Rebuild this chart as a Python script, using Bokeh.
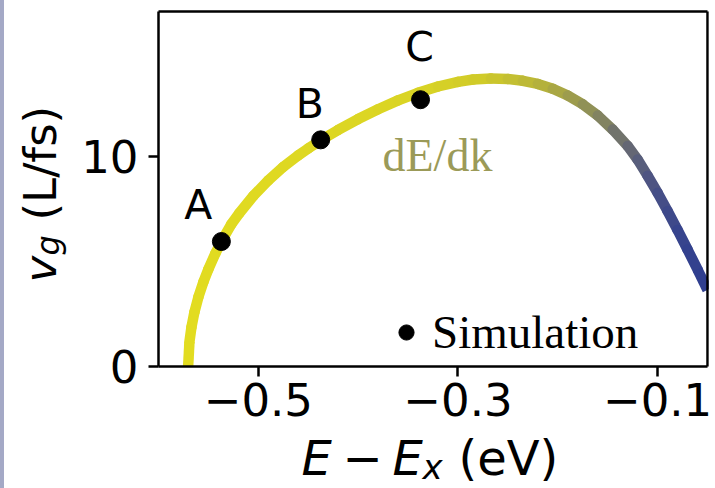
import numpy as np
from bokeh.plotting import figure
from bokeh.models import (Range1d, FixedTicker, CustomJSTickFormatter, Label,
                          Legend, LegendItem, Div, ColumnDataSource, LinearAxis,
                          BoxAnnotation)
from bokeh.layouts import row
from bokeh.embed import file_html
from bokeh.resources import INLINE

# Group velocity v_g = dE/dk versus energy measured from the exciton
curve_e = [-0.5703, -0.569, -0.567, -0.564, -0.560, -0.555, -0.550, -0.543,
           -0.537, -0.527, -0.519, -0.505, -0.490, -0.475, -0.460, -0.450,
           -0.4375, -0.420, -0.400, -0.380, -0.360, -0.340, -0.320, -0.300,
           -0.285, -0.267, -0.250, -0.235, -0.220, -0.205, -0.190, -0.175,
           -0.160, -0.145, -0.130, -0.120, -0.110, -0.100, -0.090, -0.080,
           -0.070, -0.060, -0.050]
curve_vg = [0.0, 1.18, 1.87, 2.59, 3.31, 4.03, 4.64, 5.39,
            5.95, 6.78, 7.3, 8.12, 8.86, 9.5, 10.05, 10.38,
            10.77, 11.26, 11.78, 12.25, 12.67, 13.03, 13.33, 13.55,
            13.66, 13.71, 13.69, 13.6, 13.45, 13.22, 12.9, 12.48,
            11.95, 11.28, 10.5, 9.85, 9.08, 8.27, 7.4, 6.5,
            5.57, 4.62, 3.65]

# Simulated wave packets
sim_names = ["A", "B", "C"]
sim_e = [-0.537, -0.4375, -0.3375]
sim_vg = [5.95, 10.79, 12.7]

x_ticks = [-0.5, -0.3, -0.1]
y_ticks = [0, 10]

# Line colour along the curve: yellow fading through grey into blue
color_stops_e = [-0.60, -0.34, -0.27, -0.22, -0.19, -0.16, -0.14, -0.12, -0.10, -0.07, -0.05]
color_stops_rgb = [(227, 221, 31), (218, 212, 36), (207, 202, 42), (186, 182, 56),
                   (163, 162, 72), (138, 139, 92), (116, 117, 106), (94, 98, 120),
                   (72, 80, 134), (52, 66, 142), (47, 62, 143)]

# plot box limits (data) and where that box sits on the page (pixels)
X0, X1 = -0.6, -0.05
Y0, Y1 = 0.0, 16.9
STRIP = 4
BOX_L, BOX_T, BOX_W, BOX_H = 154, 11, 549, 355   # inside the figure canvas
PW, PH = 715 - STRIP, 488


def gx(px):
    """page pixel column -> data x"""
    return X0 + (px - STRIP - BOX_L) / BOX_W * (X1 - X0)


def gy(py):
    """page pixel row -> data y"""
    return Y1 - (py - BOX_T) / BOX_H * (Y1 - Y0)


# the frame fills the whole canvas; axes are pinned to the plot box edges
p = figure(width=PW, height=PH, output_backend="svg", toolbar_location=None,
           title=None,
           x_range=Range1d(gx(STRIP), gx(STRIP + PW)),
           y_range=Range1d(gy(PH), gy(0)),
           min_border_left=0, min_border_right=0,
           min_border_top=0, min_border_bottom=0)
p.xgrid.visible = False
p.ygrid.visible = False
p.background_fill_color = "white"
p.border_fill_color = "white"
p.outline_line_color = None

xax = p.xaxis[0]
yax = p.yaxis[0]
xax.fixed_location = Y0
xax.bounds = (X0, X1)
yax.fixed_location = X0
yax.bounds = (Y0, Y1)
for ax in (xax, yax):
    ax.axis_line_width = 2.5
    ax.major_tick_line_width = 2.5
    ax.major_tick_out = 10
    ax.major_tick_in = 0
    ax.minor_tick_line_color = None
    ax.major_label_text_font = "DejaVu Sans"
    ax.major_label_text_font_size = "45px"
    ax.major_label_text_color = "black"
xax.ticker = FixedTicker(ticks=x_ticks)
yax.ticker = FixedTicker(ticks=y_ticks)
xax.formatter = CustomJSTickFormatter(
    code="return (tick < 0 ? '\\u2212' : '') + Math.abs(tick).toFixed(1);")
yax.formatter = CustomJSTickFormatter(
    code="return (tick < 0 ? '\\u2212' : '') + Math.abs(tick).toFixed(0);")
xax.major_label_standoff = 6
yax.major_label_standoff = 10

# top and right spines
top = LinearAxis(fixed_location=Y1, bounds=(X0, X1), ticker=FixedTicker(ticks=[]),
                 axis_line_width=2.5, minor_tick_line_color=None)
right = LinearAxis(fixed_location=X1, bounds=(Y0, Y1), ticker=FixedTicker(ticks=[]),
                   axis_line_width=2.5, minor_tick_line_color=None)
p.add_layout(top, "above")
p.add_layout(right, "right")

# coloured curve as short segments
e = np.array(curve_e)
v = np.array(curve_vg)
mid = 0.5 * (e[:-1] + e[1:])
rgb = np.array(color_stops_rgb, dtype=float)
seg_colors = []
for m in mid:
    r = np.interp(m, color_stops_e, rgb[:, 0])
    g = np.interp(m, color_stops_e, rgb[:, 1])
    b = np.interp(m, color_stops_e, rgb[:, 2])
    seg_colors.append("#%02x%02x%02x" % (int(round(r)), int(round(g)), int(round(b))))
segs = dict(x0=e[:-1], y0=v[:-1], x1=e[1:], y1=v[1:], c=seg_colors)
inner = ColumnDataSource({k: list(val[1:-1]) for k, val in segs.items()})
ends = ColumnDataSource({k: [val[0], val[-1]] for k, val in segs.items()})
p.segment("x0", "y0", "x1", "y1", source=inner, line_color="c",
          line_width=10.5, line_cap="round")
p.segment("x0", "y0", "x1", "y1", source=ends, line_color="c",
          line_width=10.5, line_cap="butt")
# keep the curve inside the box on the right
p.add_layout(BoxAnnotation(left=X1 + 0.0014, right=gx(715) + 0.01, bottom=Y0 - 1, top=Y1,
                           fill_color="white", fill_alpha=1.0, line_color=None))

pts_src = ColumnDataSource(dict(x=sim_e, y=sim_vg, name=sim_names))
pts = p.scatter("x", "y", source=pts_src, size=18, color="black")

# point letters
letter_offsets = [(-23, 37), (-11, 36), (-1, 53)]
for name, xe, yv, (ox, oy) in zip(sim_names, sim_e, sim_vg, letter_offsets):
    p.add_layout(Label(x=xe, y=yv, x_offset=ox, y_offset=oy, text=name,
                       text_align="center", text_baseline="alphabetic",
                       text_font="DejaVu Sans", text_font_size="41px",
                       text_color="black"))

p.add_layout(Label(x=gx(382), y=gy(155), text="dE/dk", text_font="Liberation Serif",
                   text_font_size="46px", text_color="#9b9a58",
                   text_align="left", text_baseline="alphabetic"))

legend = Legend(items=[LegendItem(label="Simulation", renderers=[pts])],
                location=(387 - STRIP, PH - 359), padding=0, spacing=0,
                border_line_alpha=0, background_fill_alpha=0,
                glyph_width=38, glyph_height=38, label_standoff=7,
                label_text_font="Liberation Serif", label_text_font_size="47px",
                label_text_color="black")
p.add_layout(legend)

# x axis title: E − E_x (eV), built from pieces so the symbols can be italic
xbase = gy(457)
xparts = [("E", 301, "italic", "48px", 0),
          ("\u2212", 342, "normal", "48px", 0),
          ("E", 392, "italic", "48px", 0),
          ("x", 422, "italic", "34px", -9),
          ("(eV)", 458, "normal", "48px", 0)]
for txt, left, style, size, drop in xparts:
    p.add_layout(Label(x=gx(left), y=xbase, y_offset=drop, text=txt,
                       text_font="DejaVu Sans", text_font_style=style,
                       text_font_size=size, text_color="black",
                       text_align="left", text_baseline="alphabetic"))

# y axis title: v_g (L/fs), reading upward
ybase_x = 40
yparts = [("v", 282, 0, "italic", "45px"),
          ("g", 255, 7, "italic", "32px"),
          ("(L/fs)", 220, 0, "normal", "45px")]
for txt, start, shift, style, size in yparts:
    p.add_layout(Label(x=gx(ybase_x + shift), y=gy(start), text=txt, angle=np.pi / 2,
                       text_font="DejaVu Sans", text_font_style=style,
                       text_font_size=size, text_color="black",
                       text_align="left", text_baseline="alphabetic"))

strip = Div(width=STRIP, height=PH, margin=0,
            styles={"background-color": "#a4a9c6"})
layout = row(strip, p, spacing=0)

open("out.html", "w").write(file_html(layout, INLINE))
